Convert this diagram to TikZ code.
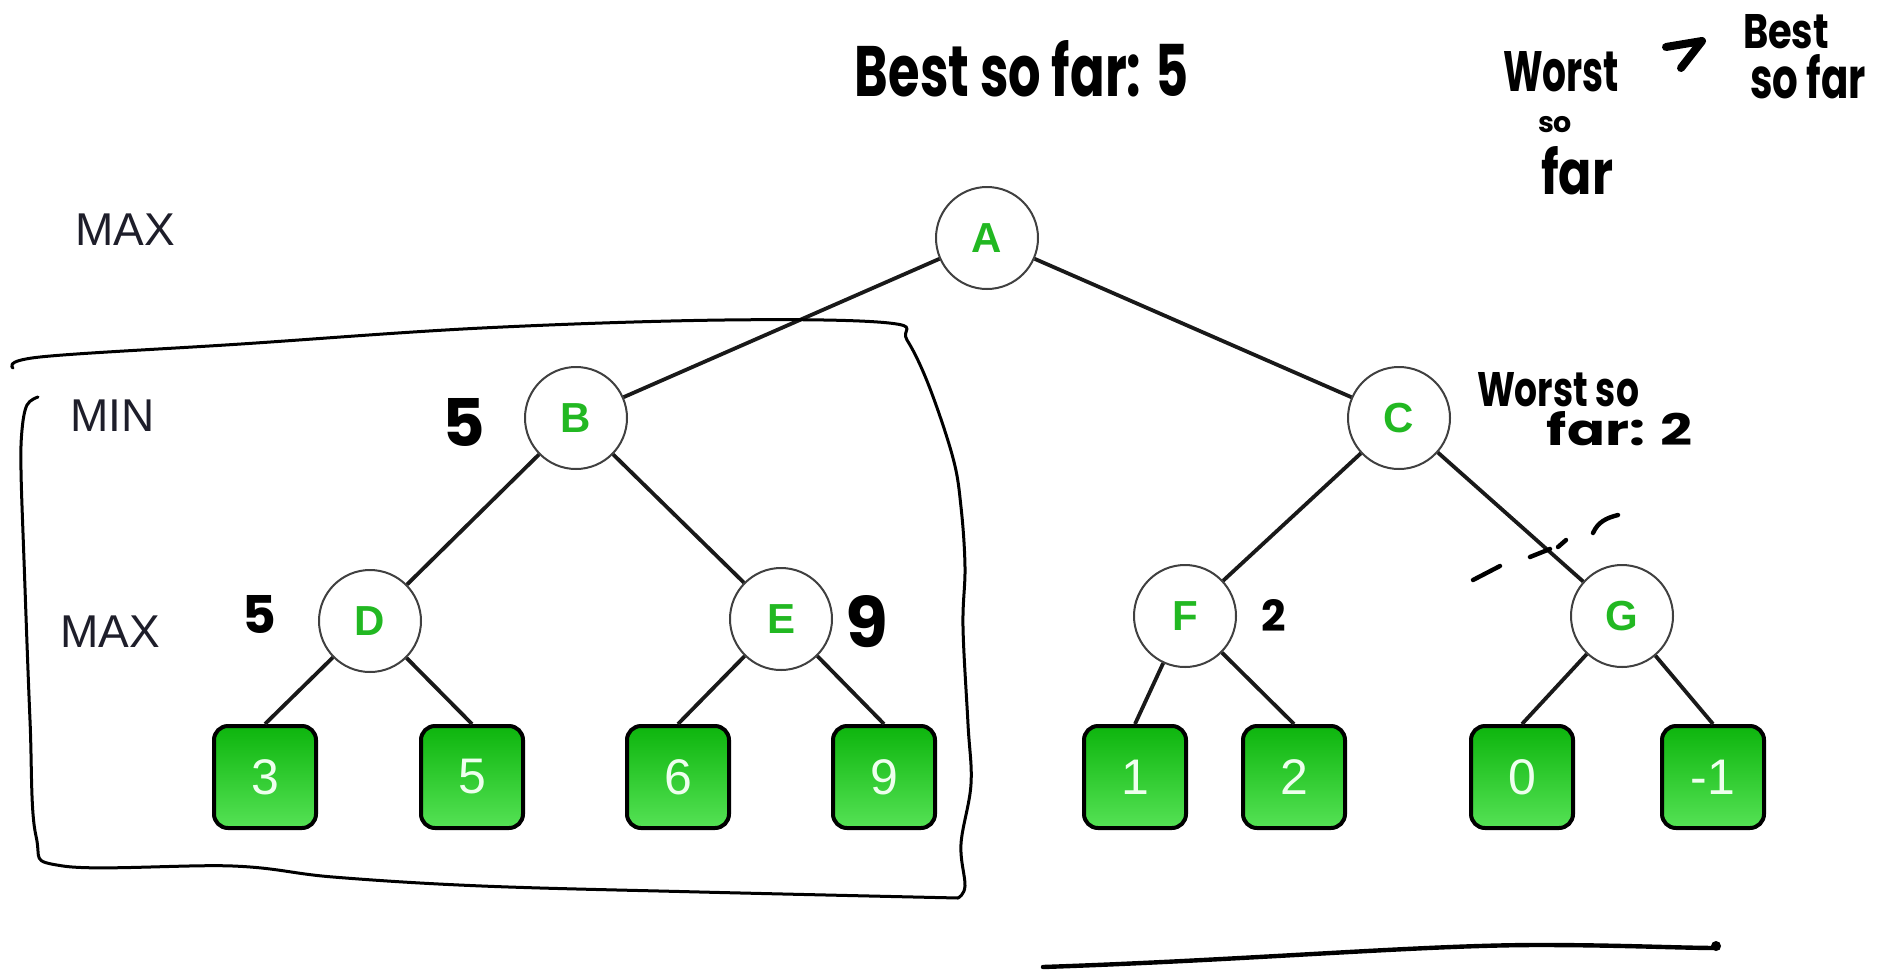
\documentclass[tikz,border=0pt]{standalone}
\usepackage{graphicx}
\usepackage{fontspec}
\setmainfont{Liberation Sans}
\newfontfamily\handfont{Poppins}
\definecolor{nodegreen}{HTML}{22B822}
\definecolor{leaftop}{HTML}{0DB50D}
\definecolor{leafbot}{HTML}{55E255}
\definecolor{leaftext}{HTML}{EEFFEE}
\definecolor{lvltext}{HTML}{1E1E2A}
\newcommand{\handw}[2]{\resizebox{#1}{!}{\handfont\bfseries #2}}
\newcommand{\handwh}[3]{\resizebox{#1}{#2}{\handfont\bfseries #3}}
\newcommand{\handh}[2]{\resizebox{!}{#1}{\handfont\bfseries #2}}
\begin{document}
\begin{tikzpicture}[x=0.5pt,y=-0.5pt,
  circ/.style={circle, draw=black!75, line width=1pt, fill=white, minimum size=51pt, inner sep=0pt,
    font=\fontsize{21}{21}\selectfont\bfseries, text=nodegreen},
  leaf/.style={rectangle, rounded corners=7pt, draw=black, line width=2pt, minimum size=51pt, inner sep=0pt,
    top color=leaftop, bottom color=leafbot, text=leaftext, font=\fontsize{25}{25}\selectfont},
  edge/.style={line width=1.9pt, black!90},
  lvl/.style={anchor=west, font=\fontsize{23}{23}\selectfont, text=lvltext, inner sep=0pt},
  hw/.style={inner sep=0pt},
  ink/.style={line width=1.5pt, line cap=round, line join=round},
  thickink/.style={line width=2.2pt, line cap=round, line join=round}]
\useasboundingbox (0,0) rectangle (1891,970);
\fill[white] (0,0) rectangle (1891,970);

% level labels
\node[lvl] (max1) at (75,230) {MAX};
\node[lvl] (min1) at (70,416) {MIN};
\node[lvl] (max2) at (60,632) {MAX};

% tree nodes
\node[circ] (A) at (987,238) {A};
\node[circ] (B) at (576,418) {B};
\node[circ] (C) at (1399,418) {C};
\node[circ] (D) at (370,621) {D};
\node[circ] (E) at (781,619) {E};
\node[circ] (F) at (1185,616) {F};
\node[circ] (G) at (1622,616) {G};

\node[leaf] (l3) at (265,777) {3};
\node[leaf] (l5) at (472,777) {5};
\node[leaf] (l6) at (678,777) {6};
\node[leaf] (l9) at (884,777) {9};
\node[leaf] (l1) at (1135,777) {1};
\node[leaf] (l2) at (1294,777) {2};
\node[leaf] (l0) at (1522,777) {0};
\node[leaf] (lm) at (1713,777) {-1};

\draw[edge] (A) -- (B);
\draw[edge] (A) -- (C);
\draw[edge] (B) -- (D);
\draw[edge] (B) -- (E);
\draw[edge] (C) -- (F);
\draw[edge] (C) -- (G);
\draw[edge] (D) -- (l3.north);
\draw[edge] (D) -- (l5.north);
\draw[edge] (E) -- (l6.north);
\draw[edge] (E) -- (l9.north);
\draw[edge] (F) -- (l1.north);
\draw[edge] (F) -- (l2.north);
\draw[edge] (G) -- (l0.north);
\draw[edge] (G) -- (lm.north);

% handwritten annotations
\node[hw] (best) at (1022,69) {\handwh{167pt}{28pt}{Best so far: 5}};
\node[hw] (ws1) at (1558,390) {\handwh{81pt}{17pt}{Worst so}};
\node[hw] (ws2) at (1620,429) {\handwh{73pt}{17pt}{far: 2}};
\node[hw] (tw1) at (1561,72) {\handwh{58pt}{20pt}{Worst}};
\node[hw] (tw2) at (1555,125) {\handw{17pt}{so}};
\node[hw] (tw3) at (1577,171) {\handwh{36pt}{24pt}{far}};
\node[hw] (tb1) at (1786,32) {\handwh{43pt}{17pt}{Best}};
\node[hw] (tb2) at (1808,77) {\handwh{58pt}{22pt}{so far}};
\node[hw] (vB) at (464,422) {\handh{24pt}{5}};
\node[hw] (vD) at (259,614) {\handh{19pt}{5}};
\node[hw] (vE) at (867,622) {\handh{26pt}{9}};
\node[hw] (vF) at (1274,615) {\handh{16pt}{2}};

% the mark between the top-right phrases
\draw[line width=4pt, line cap=round, line join=round] (1666,47) -- (1702,41) -- (1681,68);

% cut mark across C--G
\draw[thickink] (1473,580) -- (1500,566);
\draw[thickink] (1530,557) -- (1550,549) (1558,547) -- (1566,540);
\draw[thickink] (1593,533) .. controls (1598,522) and (1606,518) .. (1618,515);

% enclosure around left subtree
\draw[ink] plot[smooth, tension=0.6] coordinates {(13,368) (40,357) (241,344) (482,328) (724,320) (889,323) (907,340) (929,386) (953,458) (961,507) (965,567) (963,627) (968,724) (971,784) (961,844) (965,886) (958,898)};
\draw[ink] plot[smooth, tension=0.6] coordinates {(958,898) (700,892) (482,886) (333,877) (233,866) (63,866) (36,836) (30,720) (24,560) (21,470) (22,430) (27,405) (38,397)};

% bottom line
\draw[thickink] (1043,967) .. controls (1250,960) and (1420,945) .. (1539,945) .. controls (1620,945) and (1680,948) .. (1718,948);
\fill (1716,946) circle (5);
\end{tikzpicture}
\end{document}
